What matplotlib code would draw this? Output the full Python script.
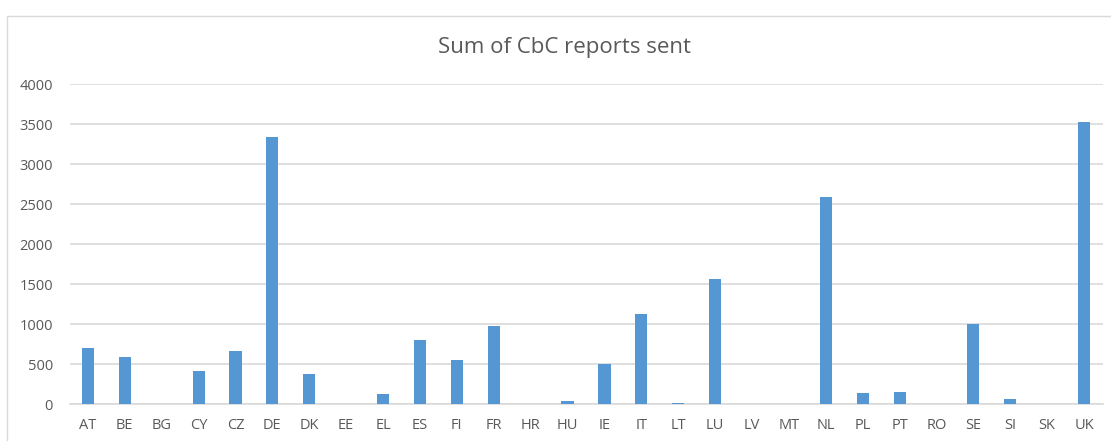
import matplotlib
matplotlib.use("Agg")
import matplotlib.pyplot as plt
from matplotlib.patches import Rectangle

countries = ["AT", "BE", "BG", "CY", "CZ", "DE", "DK", "EE", "EL", "ES", "FI", "FR", "HR", "HU",
             "IE", "IT", "LT", "LU", "LV", "MT", "NL", "PL", "PT", "RO", "SE", "SI", "SK", "UK"]
reports_sent = [700, 585, 0, 414, 665, 3340, 380, 0, 121, 802, 552, 982, 0, 42,
                497, 1120, 17, 1560, 0, 0, 2595, 142, 155, 0, 1003, 63, 0, 3532]
y_ticks = [0, 500, 1000, 1500, 2000, 2500, 3000, 3500, 4000]
title = "Sum of CbC reports sent"

plt.rcParams['font.family'] = ['Open Sans', 'DejaVu Sans']

W, H = 1111, 441
fig = plt.figure(figsize=(W / 100, H / 100), dpi=100)
fig.patch.set_facecolor("white")

# outer chart border (extends beyond right/bottom edges)
fig.patches.append(Rectangle((6.5 / W, -0.1), 1.2, (H - 15.5) / H + 0.1,
                             transform=fig.transFigure, fill=False,
                             edgecolor="#d9d9d9", linewidth=1.0))

ax = fig.add_axes([69.5 / W, 1 - 404 / H, (1102.5 - 69.5) / W, (404 - 84.3) / H])
x = list(range(len(countries)))
ax.bar(x, reports_sent, width=0.33, color="#5597d3", zorder=3)
ax.set_xlim(-0.5, len(countries) - 0.5)
ax.set_ylim(0, 4000)
ax.set_yticks(y_ticks)
ax.set_yticklabels([str(v) for v in y_ticks])
ax.set_xticks(x)
ax.set_xticklabels(countries)
ax.yaxis.grid(True, color="#d9d9d9", linewidth=1.2, zorder=0)
ax.xaxis.grid(False)
for s in ["left", "right", "top"]:
    ax.spines[s].set_visible(False)
ax.spines["bottom"].set_color("#d9d9d9")
ax.spines["bottom"].set_linewidth(1.2)
ax.tick_params(axis="both", length=0, labelcolor="#595959", labelsize=10.5)
ax.tick_params(axis="y", pad=12)
ax.tick_params(axis="x", pad=10)

fig.text(564.5 / W, 1 - 47 / H, title, ha="center", va="center", fontsize=16, color="#595959")

fig.savefig("out.png", dpi=100, facecolor="white")
